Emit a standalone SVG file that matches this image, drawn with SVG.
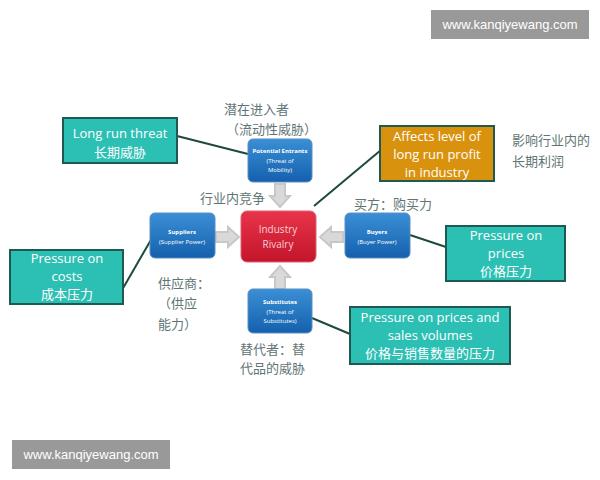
<svg xmlns="http://www.w3.org/2000/svg" width="600" height="480" viewBox="0 0 600 480">
<defs>
<linearGradient id="bl" x1="0" y1="0" x2="0" y2="1"><stop offset="0" stop-color="#3a8fd6"/><stop offset="1" stop-color="#1560ad"/></linearGradient>
<linearGradient id="rd" x1="0" y1="0" x2="0" y2="1"><stop offset="0" stop-color="#e8344a"/><stop offset="1" stop-color="#c3152b"/></linearGradient>
<polygon id="arr" points="-5,-12 5,-12 5,0 10,0 0,11 -10,0 -5,0" fill="#d9d9d9" stroke="#c8c8c8"/>
</defs>
<style>
.t{font-family:"Open Sans","Noto Sans CJK SC",sans-serif;fill:#fff;font-size:13px;text-anchor:middle}
.r{font-family:"Open Sans",sans-serif;fill:#f4d0d4;font-size:10px;text-anchor:middle}
.c{font-family:"Noto Sans CJK SC",sans-serif;fill:#5f7575;font-size:13px}
.tb{fill:#2cbfb4;stroke:#1e5a52;stroke-width:2}
.bn{fill:url(#bl);stroke:#5a8fc0;stroke-width:1}
.bt{font-family:"Open Sans",sans-serif;fill:#fff;font-size:6px;text-anchor:middle}
.wm{font-family:"Liberation Sans",sans-serif;fill:#fff;font-size:13px;text-anchor:middle}
</style>
<rect width="600" height="480" fill="#fff"/>
<g id="connectors" stroke="#1e4a3e" stroke-width="2" fill="none">
<line x1="177" y1="136" x2="248" y2="154"/>
<line x1="381" y1="150" x2="314" y2="206"/>
<line x1="410" y1="235" x2="446" y2="247"/>
<line x1="152" y1="238" x2="122" y2="290"/>
<line x1="312" y1="318" x2="350" y2="334"/>
<use href="#arr" transform="translate(280,196)"/>
<use href="#arr" transform="translate(280,277) rotate(180)"/>
<use href="#arr" transform="translate(228,237) rotate(-90)"/>
<use href="#arr" transform="translate(331,237) rotate(90)"/>
</g>
<g id="rivalry"><rect x="241" y="211" width="75" height="51" rx="6" fill="url(#rd)" stroke="#e06070"/>
<text class="r" x="278" y="233">Industry</text><text class="r" x="278" y="248">Rivalry</text></g>
<g id="entrants"><rect class="bn" x="248" y="139" width="64" height="43" rx="5"/>
<text class="bt" x="280" y="153" font-weight="bold">Potential Entrants</text><text class="bt" x="280" y="163">(Threat of</text><text class="bt" x="280" y="172">Mobility)</text></g>
<g id="suppliers"><rect class="bn" x="150" y="213" width="65" height="45" rx="5"/>
<text class="bt" x="182" y="234" font-weight="bold">Suppliers</text><text class="bt" x="182" y="244">(Supplier Power)</text></g>
<g id="buyers"><rect class="bn" x="345" y="213" width="65" height="45" rx="5"/>
<text class="bt" x="377" y="234" font-weight="bold">Buyers</text><text class="bt" x="377" y="244">(Buyer Power)</text></g>
<g id="substitutes"><rect class="bn" x="248" y="289" width="64" height="44" rx="5"/>
<text class="bt" x="280" y="304" font-weight="bold">Substitutes</text><text class="bt" x="280" y="314">(Threat of</text><text class="bt" x="280" y="323">Substitutes)</text></g>
<g id="longrun"><rect class="tb" x="63" y="118" width="114" height="45"/>
<text class="t" x="120" y="138">Long run threat</text><text class="t" x="120" y="157">长期威胁</text></g>
<g id="affects"><rect x="380" y="126" width="114" height="55" fill="#d9920e" stroke="#1e5a52" stroke-width="2"/>
<text class="t" x="437" y="141">Affects level of</text><text class="t" x="437" y="159">long run profit</text><text class="t" x="437" y="177">in industry</text></g>
<g id="costs"><rect class="tb" x="10" y="250" width="113" height="54"/>
<text class="t" x="67" y="263">Pressure on</text><text class="t" x="67" y="281">costs</text><text class="t" x="67" y="299">成本压力</text></g>
<g id="prices"><rect class="tb" x="446" y="226" width="119" height="55"/>
<text class="t" x="506" y="240">Pressure on</text><text class="t" x="506" y="258">prices</text><text class="t" x="506" y="276">价格压力</text></g>
<g id="volumes"><rect class="tb" x="350" y="307" width="160" height="57"/>
<text class="t" x="430" y="322">Pressure on prices and</text><text class="t" x="430" y="340">sales volumes</text><text class="t" x="430" y="358">价格与销售数量的压力</text></g>
<g id="labels">
<text class="c" x="224" y="114">潜在进入者</text><text class="c" x="226" y="134">（流动性威胁）</text>
<text class="c" x="512" y="145">影响行业内的</text><text class="c" x="512" y="166">长期利润</text>
<text class="c" x="200" y="203">行业内竞争</text>
<text class="c" x="354" y="209">买方：购买力</text>
<text class="c" x="158" y="288">供应商：</text><text class="c" x="158" y="308">（供应</text><text class="c" x="158" y="329">能力）</text>
<text class="c" x="240" y="354">替代者：替</text><text class="c" x="240" y="373">代品的威胁</text>
</g>
<g id="watermarks">
<rect x="431" y="10" width="158" height="29" fill="#999"/><text class="wm" x="510" y="29">www.kanqiyewang.com</text>
<rect x="12" y="440" width="158" height="29" fill="#999"/><text class="wm" x="91" y="459">www.kanqiyewang.com</text>
</g>
</svg>
